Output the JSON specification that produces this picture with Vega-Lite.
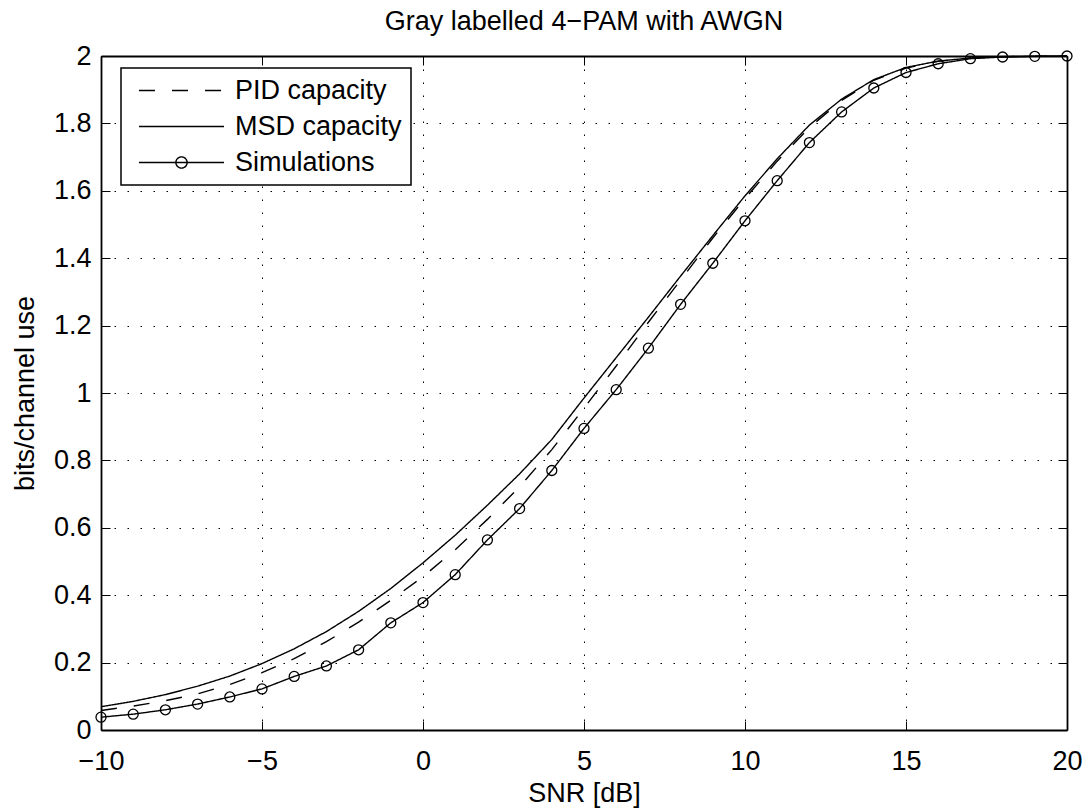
{
  "$schema": "https://vega.github.io/schema/vega-lite/v6.json",
  "width": 966,
  "height": 674,
  "autosize": {"type": "none"},
  "padding": {"left": 101, "top": 56, "right": 22, "bottom": 80},
  "background": "white",
  "title": {"text": "Gray labelled 4−PAM with AWGN", "fontSize": 27, "font": "Liberation Sans", "fontWeight": "normal", "color": "black", "offset": 6, "anchor": "middle"},
  "config": {
    "view": {"stroke": null},
    "font": "Liberation Sans"
  },
  "data": {
    "values": [
      {"snr": -10, "value": 0.058, "series": "PID capacity"},
      {"snr": -9, "value": 0.071, "series": "PID capacity"},
      {"snr": -8, "value": 0.087, "series": "PID capacity"},
      {"snr": -7, "value": 0.107, "series": "PID capacity"},
      {"snr": -6, "value": 0.135, "series": "PID capacity"},
      {"snr": -5, "value": 0.170, "series": "PID capacity"},
      {"snr": -4, "value": 0.212, "series": "PID capacity"},
      {"snr": -3, "value": 0.262, "series": "PID capacity"},
      {"snr": -2, "value": 0.320, "series": "PID capacity"},
      {"snr": -1, "value": 0.385, "series": "PID capacity"},
      {"snr": 0, "value": 0.455, "series": "PID capacity"},
      {"snr": 1, "value": 0.535, "series": "PID capacity"},
      {"snr": 2, "value": 0.625, "series": "PID capacity"},
      {"snr": 3, "value": 0.722, "series": "PID capacity"},
      {"snr": 4, "value": 0.832, "series": "PID capacity"},
      {"snr": 5, "value": 0.955, "series": "PID capacity"},
      {"snr": 6, "value": 1.080, "series": "PID capacity"},
      {"snr": 7, "value": 1.210, "series": "PID capacity"},
      {"snr": 8, "value": 1.335, "series": "PID capacity"},
      {"snr": 9, "value": 1.460, "series": "PID capacity"},
      {"snr": 10, "value": 1.577, "series": "PID capacity"},
      {"snr": 11, "value": 1.688, "series": "PID capacity"},
      {"snr": 12, "value": 1.788, "series": "PID capacity"},
      {"snr": 13, "value": 1.868, "series": "PID capacity"},
      {"snr": 14, "value": 1.928, "series": "PID capacity"},
      {"snr": 15, "value": 1.964, "series": "PID capacity"},
      {"snr": 16, "value": 1.984, "series": "PID capacity"},
      {"snr": 17, "value": 1.994, "series": "PID capacity"},
      {"snr": 18, "value": 1.998, "series": "PID capacity"},
      {"snr": 19, "value": 1.999, "series": "PID capacity"},
      {"snr": 20, "value": 2.0, "series": "PID capacity"},
      {"snr": -10, "value": 0.069, "series": "MSD capacity"},
      {"snr": -9, "value": 0.085, "series": "MSD capacity"},
      {"snr": -8, "value": 0.105, "series": "MSD capacity"},
      {"snr": -7, "value": 0.130, "series": "MSD capacity"},
      {"snr": -6, "value": 0.160, "series": "MSD capacity"},
      {"snr": -5, "value": 0.197, "series": "MSD capacity"},
      {"snr": -4, "value": 0.241, "series": "MSD capacity"},
      {"snr": -3, "value": 0.292, "series": "MSD capacity"},
      {"snr": -2, "value": 0.352, "series": "MSD capacity"},
      {"snr": -1, "value": 0.420, "series": "MSD capacity"},
      {"snr": 0, "value": 0.496, "series": "MSD capacity"},
      {"snr": 1, "value": 0.578, "series": "MSD capacity"},
      {"snr": 2, "value": 0.667, "series": "MSD capacity"},
      {"snr": 3, "value": 0.760, "series": "MSD capacity"},
      {"snr": 4, "value": 0.862, "series": "MSD capacity"},
      {"snr": 5, "value": 0.985, "series": "MSD capacity"},
      {"snr": 6, "value": 1.105, "series": "MSD capacity"},
      {"snr": 7, "value": 1.225, "series": "MSD capacity"},
      {"snr": 8, "value": 1.347, "series": "MSD capacity"},
      {"snr": 9, "value": 1.467, "series": "MSD capacity"},
      {"snr": 10, "value": 1.585, "series": "MSD capacity"},
      {"snr": 11, "value": 1.695, "series": "MSD capacity"},
      {"snr": 12, "value": 1.795, "series": "MSD capacity"},
      {"snr": 13, "value": 1.872, "series": "MSD capacity"},
      {"snr": 14, "value": 1.930, "series": "MSD capacity"},
      {"snr": 15, "value": 1.966, "series": "MSD capacity"},
      {"snr": 16, "value": 1.985, "series": "MSD capacity"},
      {"snr": 17, "value": 1.994, "series": "MSD capacity"},
      {"snr": 18, "value": 1.998, "series": "MSD capacity"},
      {"snr": 19, "value": 1.999, "series": "MSD capacity"},
      {"snr": 20, "value": 2.0, "series": "MSD capacity"},
      {"snr": -10, "value": 0.038, "series": "Simulations"},
      {"snr": -9, "value": 0.047, "series": "Simulations"},
      {"snr": -8, "value": 0.060, "series": "Simulations"},
      {"snr": -7, "value": 0.077, "series": "Simulations"},
      {"snr": -6, "value": 0.098, "series": "Simulations"},
      {"snr": -5, "value": 0.122, "series": "Simulations"},
      {"snr": -4, "value": 0.159, "series": "Simulations"},
      {"snr": -3, "value": 0.190, "series": "Simulations"},
      {"snr": -2, "value": 0.238, "series": "Simulations"},
      {"snr": -1, "value": 0.318, "series": "Simulations"},
      {"snr": 0, "value": 0.378, "series": "Simulations"},
      {"snr": 1, "value": 0.461, "series": "Simulations"},
      {"snr": 2, "value": 0.564, "series": "Simulations"},
      {"snr": 3, "value": 0.657, "series": "Simulations"},
      {"snr": 4, "value": 0.770, "series": "Simulations"},
      {"snr": 5, "value": 0.895, "series": "Simulations"},
      {"snr": 6, "value": 1.010, "series": "Simulations"},
      {"snr": 7, "value": 1.133, "series": "Simulations"},
      {"snr": 8, "value": 1.263, "series": "Simulations"},
      {"snr": 9, "value": 1.385, "series": "Simulations"},
      {"snr": 10, "value": 1.511, "series": "Simulations"},
      {"snr": 11, "value": 1.630, "series": "Simulations"},
      {"snr": 12, "value": 1.743, "series": "Simulations"},
      {"snr": 13, "value": 1.834, "series": "Simulations"},
      {"snr": 14, "value": 1.905, "series": "Simulations"},
      {"snr": 15, "value": 1.951, "series": "Simulations"},
      {"snr": 16, "value": 1.977, "series": "Simulations"},
      {"snr": 17, "value": 1.992, "series": "Simulations"},
      {"snr": 18, "value": 1.997, "series": "Simulations"},
      {"snr": 19, "value": 1.999, "series": "Simulations"},
      {"snr": 20, "value": 2.0, "series": "Simulations"}
    ]
  },
  "layer": [
    {
      "mark": {"type": "line", "strokeWidth": 1.4, "color": "black"},
      "encoding": {
        "x": {
          "field": "snr", "type": "quantitative",
          "scale": {"domain": [-10, 20], "nice": false, "zero": false},
          "axis": {
            "orient": "bottom", "values": [-10, -5, 0, 5, 10, 15, 20],
            "grid": true, "gridDash": [1.5, 11.5], "gridColor": "black", "gridWidth": 1, "gridOpacity": 1,
            "tickSize": -9, "tickColor": "black", "tickWidth": 1,
            "domainColor": "black", "domainWidth": 1.8,
            "labelFontSize": 27, "labelFont": "Liberation Sans", "labelColor": "black", "labelPadding": 27,
            "labelFlush": false, "labelOverlap": false,
            "title": "SNR [dB]", "titleFontSize": 27, "titleFont": "Liberation Sans", "titleFontWeight": "normal", "titleColor": "black", "titlePadding": 6
          }
        },
        "y": {
          "field": "value", "type": "quantitative",
          "scale": {"domain": [0, 2], "nice": false},
          "axis": {
            "orient": "left", "values": [0, 0.2, 0.4, 0.6, 0.8, 1, 1.2, 1.4, 1.6, 1.8, 2], "format": ".1~f",
            "grid": true, "gridDash": [1.5, 11.5], "gridColor": "black", "gridWidth": 1, "gridOpacity": 1,
            "tickSize": -9, "tickColor": "black", "tickWidth": 1,
            "domainColor": "black", "domainWidth": 1.8,
            "labelFontSize": 27, "labelFont": "Liberation Sans", "labelColor": "black", "labelPadding": 19,
            "labelFlush": false, "labelOverlap": false,
            "title": "bits/channel use", "titleFontSize": 27, "titleFont": "Liberation Sans", "titleFontWeight": "normal", "titleColor": "black", "titlePadding": 14
          }
        },
        "strokeDash": {
          "field": "series", "type": "nominal",
          "scale": {"domain": ["PID capacity", "MSD capacity", "Simulations"], "range": [[16, 17], [1, 0], [1, 0]]},
          "legend": {
            "orient": "none", "legendX": 20, "legendY": 12, "title": null,
            "symbolSize": 400, "symbolStrokeWidth": 1.4, "symbolStrokeColor": "black",
            "labelFontSize": 27, "labelFont": "Liberation Sans", "labelColor": "black", "labelOffset": 78, "labelLimit": 400,
            "padding": 9, "rowPadding": 8, "fillColor": "white", "strokeColor": "black",
            "encode": {
              "symbols": {"update": {"shape": {"signal": "datum.value === 'Simulations' ? 'M-0.45 0L8.05 0M4.36 0A0.56 0.56 0 1 1 3.24 0A0.56 0.56 0 1 1 4.36 0' : 'M-0.45 0L8.05 0'"}}},
              "legend": {"update": {"strokeWidth": {"value": 1.5}}}
            }
          }
        }
      }
    },
    {
      "transform": [{"filter": "datum.series === 'Simulations'"}],
      "mark": {"type": "point", "shape": "circle", "size": 100, "filled": false, "stroke": "black", "strokeWidth": 1.3, "opacity": 1},
      "encoding": {
        "x": {"field": "snr", "type": "quantitative", "axis": null},
        "y": {"field": "value", "type": "quantitative", "axis": null}
      }
    },
    {
      "mark": {"type": "point", "opacity": 0},
      "encoding": {
        "x": {
          "field": "snr", "type": "quantitative",
          "axis": {"orient": "top", "values": [-10, -5, 0, 5, 10, 15, 20], "labels": false, "grid": false, "tickSize": -9, "tickColor": "black", "tickWidth": 1, "domainColor": "black", "domainWidth": 1.8, "title": null}
        },
        "y": {
          "field": "value", "type": "quantitative",
          "axis": {"orient": "right", "values": [0, 0.2, 0.4, 0.6, 0.8, 1, 1.2, 1.4, 1.6, 1.8, 2], "labels": false, "grid": false, "tickSize": -9, "tickColor": "black", "tickWidth": 1, "domainColor": "black", "domainWidth": 1.8, "title": null}
        }
      }
    }
  ],
  "resolve": {"axis": {"x": "independent", "y": "independent"}}
}
